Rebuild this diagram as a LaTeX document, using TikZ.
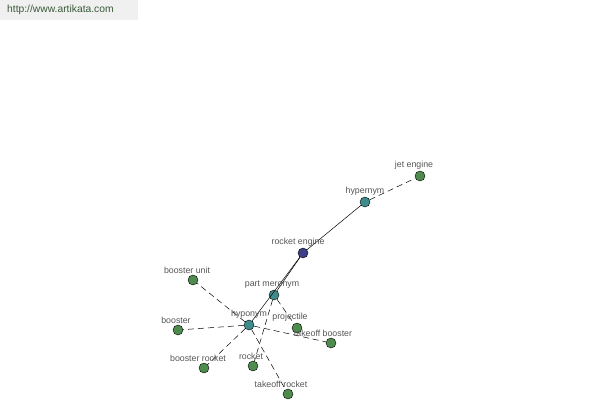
\documentclass[tikz,border=0pt]{standalone}
\usepackage{fontspec}
\setmainfont{Liberation Sans}
\usetikzlibrary{positioning}

\definecolor{wordgreen}{HTML}{4E8C4E}
\definecolor{reltea}{HTML}{3E8C8C}
\definecolor{rootblue}{HTML}{3C4088}
\definecolor{labelgray}{HTML}{555555}
\definecolor{sitegreen}{HTML}{3A5A3A}

\begin{document}
\begin{tikzpicture}[
		x=1pt, y=-1pt,
		dot/.style={circle, draw=black, line width=0.4pt, inner sep=0pt, minimum size=10pt},
		word/.style={dot, fill=wordgreen},
		rel/.style={dot, fill=reltea},
		root/.style={dot, fill=rootblue},
		tag/.style={above=1pt, text=labelgray, font=\fontsize{8.8}{9}\selectfont, inner sep=0.5pt},
		link/.style={line width=0.5pt},
		weak/.style={link, dash pattern=on 6pt off 4pt},
	]
		\useasboundingbox (0,0) rectangle (600,400);
		\fill[gray!12] (0,0) rectangle (138,20);
		\node (site) [anchor=west, inner sep=0pt, text=sitegreen, font=\fontsize{10.3}{11}\selectfont] at (7,10) {http://www.artikata.com};

		\node (re) [root] at (303,253) {};
		\node (hyper) [rel] at (365,202) {};
		\node (jet) [word] at (420,176) {};
		\node (part) [rel] at (274,295) {};
		\node (hypo) [rel] at (249,325) {};
		\node (bunit) [word] at (193,280) {};
		\node (boost) [word] at (178,330) {};
		\node (brocket) [word] at (204,368) {};
		\node (rocket) [word] at (253,366) {};
		\node (trocket) [word] at (288,394) {};
		\node (proj) [word] at (297,328) {};
		\node (tboost) [word] at (331,343) {};

		\draw[link] (re) -- (hyper);
		\draw[link] (re) -- (part);
		\draw[link] (re) -- (hypo);
		\draw[weak] (hyper) -- (jet);
		\draw[weak] (part) -- (proj);
		\draw[weak] (part) -- (rocket);
		\draw[weak] (hypo) -- (bunit);
		\draw[weak] (hypo) -- (boost);
		\draw[weak] (hypo) -- (brocket);
		\draw[weak] (hypo) -- (trocket);
		\draw[weak] (hypo) -- (tboost);

		\foreach \n/\t/\dx in {re/rocket engine/-5, hyper/hypernym/0, jet/jet engine/-6,
			part/part meronym/-2, hypo/hyponym/0, bunit/booster unit/-6, boost/booster/-2,
			brocket/booster rocket/-6, rocket/rocket/-2, trocket/takeoff rocket/-7,
			proj/projectile/-7, tboost/takeoff booster/-8}
			\node[tag, xshift=\dx pt] at (\n.north) {\t};
\end{tikzpicture}
\end{document}
